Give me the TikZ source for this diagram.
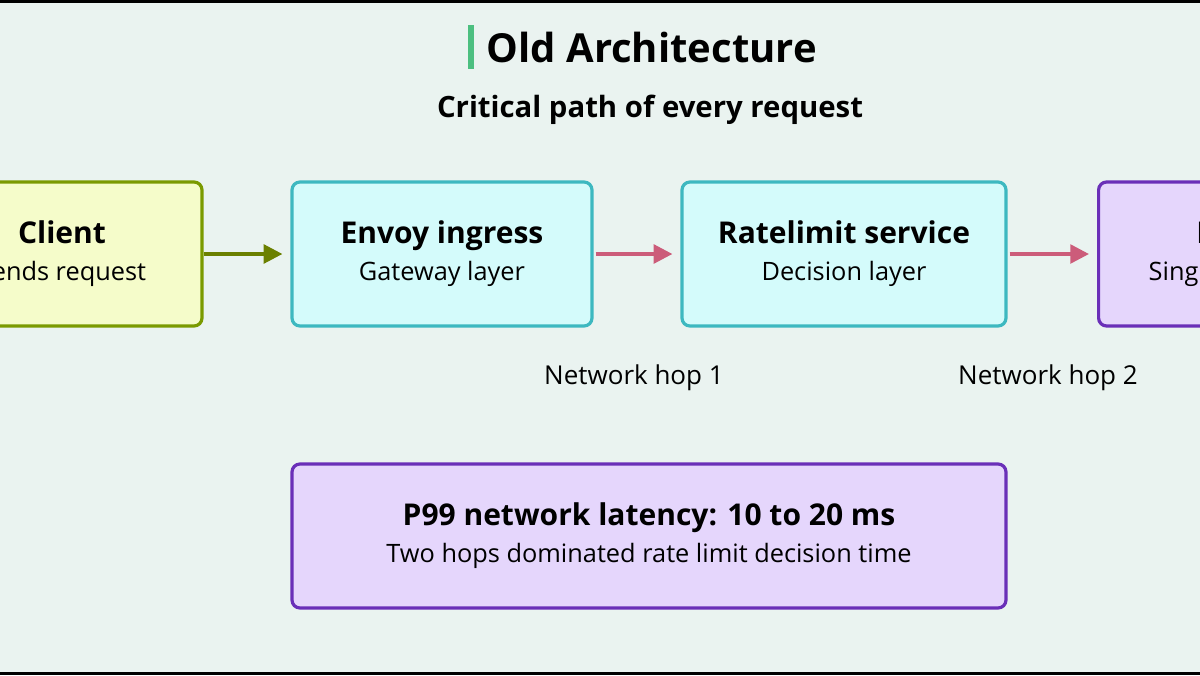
\documentclass[tikz,border=0pt]{standalone}
\usepackage{fontspec}
\setmainfont{Open Sans}
\usetikzlibrary{arrows.meta,positioning}
\definecolor{bgc}{HTML}{EAF3F0}
\definecolor{clientfill}{HTML}{F5FCCA}
\definecolor{clientline}{HTML}{7A9A00}
\definecolor{cyanfill}{HTML}{D4FBFB}
\definecolor{cyanline}{HTML}{3DB8C0}
\definecolor{purpfill}{HTML}{E5D6FC}
\definecolor{purpline}{HTML}{6A2FB8}
\definecolor{pinkarrow}{HTML}{CC5C7A}
\definecolor{greenarrow}{HTML}{6B8000}
\definecolor{barc}{HTML}{4CBF80}
\newcommand{\boxtext}[2]{{\fontsize{22.5}{27}\selectfont\bfseries\strut #1}\\[3pt]{\fontsize{19}{22}\selectfont\strut #2}}
\tikzset{
  box/.style={draw=#1line, fill=#1fill, line width=2.4pt, rounded corners=6pt,
    minimum height=108pt, align=center, inner sep=0pt},
  sub/.style={font=\fontsize{19.5}{23}\selectfont},
  flow/.style={-{Triangle[length=14pt,width=14pt]}, line width=2.6pt},
}
\begin{document}
\begin{tikzpicture}[x=0.75pt,y=-0.75pt]
    \fill[bgc] (0,0) rectangle (1200,675);
    \fill[black] (0,0) rectangle (1200,3);
    \fill[black] (0,672) rectangle (1200,675);
    \clip (0,0) rectangle (1200,675);
    % title
    \fill[barc] (468,25) rectangle (474,69);
    \node[anchor=west, font=\fontsize{30}{36}\selectfont\bfseries] (title) at (482,47) {Old Architecture};
    \node[font=\fontsize{22}{26}\selectfont\bfseries] (subtitle) at (650,110) {Critical path of every request};
    % boxes
    \node[box=client, minimum width=280*0.75pt] (client) at (62,254) {\boxtext{Client}{Sends request}};
    \node[box=cyan, minimum width=300*0.75pt] (envoy) at (442,254) {\boxtext{Envoy ingress}{Gateway layer}};
    \node[box=cyan, minimum width=324*0.75pt] (ratelimit) at (844,254) {\boxtext{Ratelimit service}{Decision layer}};
    \node[box=purp, minimum width=276*0.75pt, anchor=west] (redis) at (1097,254) {\boxtext{Redis}{Single instance}};
    \node[box=purp, minimum width=714*0.75pt] (latency) at (649,536)
        {\boxtext{P99 network latency: 10 to 20 ms}{Two hops dominated rate limit decision time}};
    % hop labels
    \node[sub] (hop1) at (634,378) {Network hop 1};
    \node[sub] (hop2) at (1048,378) {Network hop 2};
    % arrows
    \draw[flow, greenarrow] (client.east) -- ([xshift=-6pt]envoy.west);
    \draw[flow, pinkarrow] ([xshift=1.5pt]envoy.east) -- ([xshift=-6pt]ratelimit.west);
    \draw[flow, pinkarrow] ([xshift=1.5pt]ratelimit.east) -- ([xshift=-6pt]redis.west);
\end{tikzpicture}
\end{document}
